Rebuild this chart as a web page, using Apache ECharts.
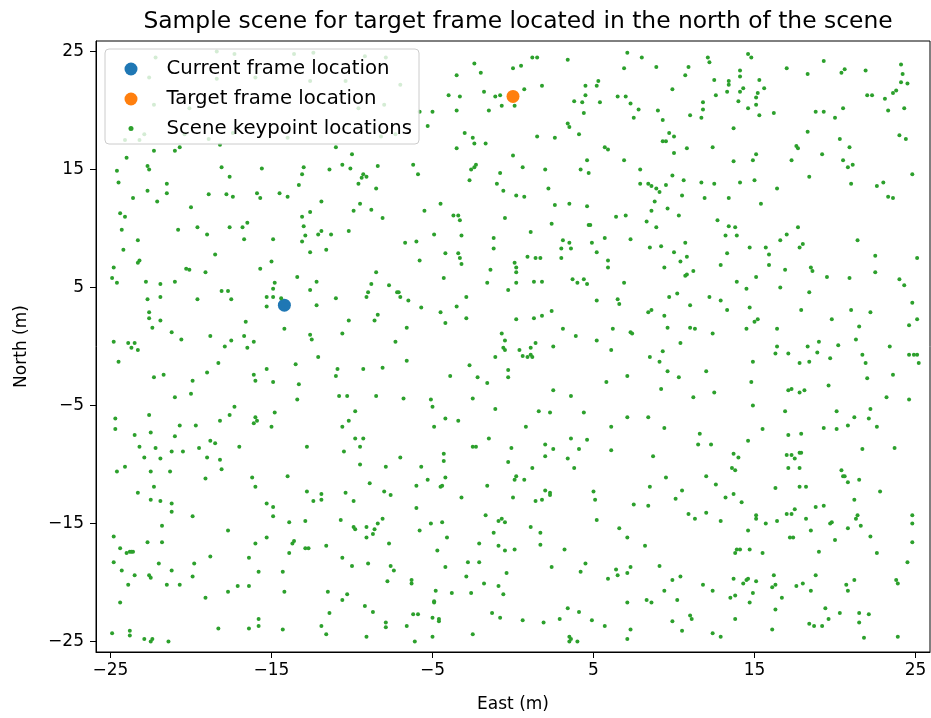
<!DOCTYPE html>
<html><head><meta charset="utf-8">
<script src="https://cdn.jsdelivr.net/npm/echarts@6/dist/echarts.min.js"></script>
<style>html,body{margin:0;padding:0;background:#fff}#c{width:931px;height:718px}</style>
</head><body><div id="c"></div>
<script>
const titleText = 'Sample scene for target frame located in the north of the scene';
const xLabel = 'East (m)';
const yLabel = 'North (m)';
const tickValues = [-25, -15, -5, 5, 15, 25];
const currentFrame = [[-14.2, 3.5]];
const targetFrame = [[0.0, 21.2]];
const keypointsNW = [[-20.7,16.9],[-21.0,16.6],[-22.3,16.6],[-24.0,16.0],[-22.7,15.3],[-22.6,15.0],[-18.1,15.2],[-15.6,15.1],[-17.6,14.4],[-13.0,15.2],[-13.1,14.6],[-24.6,14.9],[-24.5,13.9],[-21.5,13.8],[-13.3,13.7],[-22.7,13.2],[-21.5,13.0],[-18.9,12.9],[-17.8,12.9],[-17.4,12.7],[-15.9,13.0],[-15.7,12.6],[-14.5,13.0],[-14.0,12.7],[-23.6,12.6],[-22.1,12.3],[-20.0,11.8],[-24.4,11.3],[-24.1,11.0],[-16.5,10.5],[-13.1,11.0],[-16.8,10.1],[-13.0,10.2],[-24.3,9.9],[-20.8,9.9],[-19.6,10.1],[-17.6,10.1],[-19.0,9.5],[-23.3,9.0],[-16.7,9.1],[-14.9,9.1],[-13.1,8.9],
[-22.2,24.5],[-18.4,25.0],[-17.3,24.8],[-13.6,24.8],[-22.6,22.8],[-18.4,22.7],[-16.0,22.8],[-22.3,20.5],[-20.1,20.2],[-22.9,18.0],[-24.1,17.5],[-23.2,17.5],[-20.4,18.0],[-18.9,17.6],[-18.2,17.1],[-17.4,18.1],[-14.0,17.7],
[-2.4,24.0],[-2.0,23.2],[-3.5,23.0],[-4.0,21.3],[-3.3,21.2],[-1.8,21.6],[-1.1,21.2],[-0.8,21.3],[-0.7,20.4],[-5.8,19.9],[-5.0,19.9],[-3.5,20.0],[-1.5,20.0],[-5.3,18.7],[-3.0,18.1],[-2.5,17.7],[-2.4,17.2],[-1.7,17.2],[-3.5,16.8],[-11.0,16.9],[-10.0,16.3],[-11.4,15.0],[-10.6,15.4],[-10.1,15.1],[-8.4,15.3],[-6.2,15.4],[-5.9,14.6],[-2.3,15.4],[-2.4,15.2],[-2.6,15.0],[-2.7,14.1],[-0.8,14.7],[-1.0,13.8],[-0.6,13.2],[-9.4,14.3],[-9.3,14.6],[-9.1,14.4],[-9.6,13.8],[-8.5,13.4],[-11.9,12.3],[-12.6,11.4],[-4.5,12.1],[-9.5,12.1],[-9.9,11.5],[-8.8,11.6],[-8.1,10.9],[-5.5,11.5],[-3.7,11.1],[-3.4,11.1],[-3.3,10.7],[-0.5,10.9],[-11.9,9.8],[-12.1,9.5],[-11.3,9.5],[-10.2,9.8],[-12.9,9.4],[-4.9,9.5],[-3.2,9.4],[-1.2,9.2],
[-12.4,24.9],[-9.2,24.6],[-7.9,24.5],[-12.6,22.5],[-10.4,22.5],[-7.0,22.2],[-8.0,20.5],[-9.6,20.2],[-8.2,17.8],[-7.3,18.0]];
const keypointsNE = [[7.1,24.9],[8.0,24.5],[12.1,24.5],[12.2,24.1],[1.2,24.5],[1.5,24.5],[3.4,24.3],[0.0,23.6],[0.5,23.8],[6.9,23.6],[8.9,23.7],[10.9,23.7],[10.7,23.0],[12.5,22.6],[5.3,22.5],[5.2,22.1],[4.5,22.1],[1.8,22.1],[0.7,21.8],[9.9,21.8],[4.5,21.3],[12.6,21.3],[3.8,20.8],[4.3,20.7],[5.4,20.7],[6.5,21.2],[7.0,21.2],[7.3,20.6],[7.8,20.1],[9.0,20.0],[11.8,20.7],[11.8,20.1],[11.0,19.6],[11.7,19.4],[0.1,20.4],[4.4,19.8],[7.5,19.4],[9.3,19.2],[3.4,18.9],[3.5,18.6],[4.1,18.0],[1.5,17.8],[2.6,17.7],[9.7,18.1],[10.0,17.8],[9.3,17.4],[9.5,17.4],[10.8,16.8],[12.4,16.9],[5.7,16.9],[5.9,16.7],[10.0,16.4],[0.0,16.2],[4.6,15.8],[6.9,15.8],[0.6,15.2],[2.0,15.0],[4.2,15.0],[4.7,14.7],[7.9,15.0],[9.9,14.5],[10.6,14.1],[11.7,13.9],[12.5,13.8],[7.9,13.8],[8.4,13.8],[8.6,13.6],[8.9,13.4],[9.5,13.7],[9.1,13.1],[2.2,13.4],[0.2,12.8],[0.7,12.7],[10.5,12.8],[11.9,12.6],[8.8,12.3],[2.6,12.0],[3.5,12.1],[4.6,11.9],[9.6,11.7],[8.6,11.5],[10.3,11.1],[7.0,11.1],[6.4,11.0],[2.4,10.4],[4.7,10.3],[4.8,10.3],[8.3,10.6],[8.9,10.1],[12.7,10.7],[1.1,9.7],[3.1,9.0],[5.7,9.2],[7.3,9.1],
[14.6,24.8],[14.8,24.5],[17.0,23.6],[19.3,24.2],[18.3,23.1],[20.4,23.2],[20.6,23.5],[21.9,23.4],[24.1,23.9],[24.2,23.1],[14.1,23.4],[14.1,22.9],[13.4,22.5],[13.4,22.2],[15.3,22.6],[13.3,21.6],[14.1,21.6],[14.3,21.9],[15.6,21.9],[15.2,21.5],[15.1,21.1],[14.0,20.8],[15.1,20.5],[14.6,20.2],[15.3,19.6],[16.2,19.8],[18.8,19.9],[19.3,19.9],[20.5,20.2],[20.0,19.4],[22.0,21.3],[22.3,21.3],[23.1,21.0],[23.6,21.5],[23.8,21.7],[24.1,22.4],[24.5,22.3],[23.3,20.0],[24.3,20.2],[13.7,18.5],[18.3,18.2],[20.3,17.6],[20.9,16.9],[17.6,17.0],[17.7,16.8],[19.2,16.3],[17.3,15.8],[20.5,15.8],[20.8,15.2],[21.1,15.4],[24.0,17.9],[24.4,17.6],[13.7,15.7],[14.9,15.8],[15.1,16.3],[18.4,14.4],[24.8,14.6],[21.0,13.8],[22.6,13.6],[23.0,13.9],[23.3,12.7],[23.6,12.6],[14.1,13.9],[15.0,14.1],[16.4,13.4],[13.4,12.6],[15.4,12.1],[13.4,10.2],[13.8,10.1],[13.2,9.4],[13.9,9.4],[17.0,9.5],[17.7,10.1],[16.6,9.0],[21.4,9.0]];
const keypointsW = [[-24.2,8.2],[-23.2,7.3],[-23.3,7.1],[-18.5,7.8],[-24.8,6.7],[-20.3,6.6],[-20.1,6.5],[-19.1,6.3],[-15.7,6.6],[-15.0,7.2],[-24.9,5.8],[-24.6,5.4],[-22.8,5.5],[-21.9,5.3],[-21.0,5.5],[-13.4,5.9],[-14.8,5.4],[-14.9,4.9],[-18.1,4.7],[-17.7,4.7],[-22.7,4.0],[-21.9,4.2],[-19.6,4.0],[-17.5,4.0],[-15.3,4.2],[-14.9,4.2],[-14.4,4.1],[-15.3,3.4],[-22.6,2.9],[-22.6,2.4],[-21.9,2.2],[-22.4,1.6],[-16.6,2.1],[-14.2,1.5],[-21.2,1.2],[-20.6,0.6],[-18.8,0.9],[-17.5,0.5],[-16.7,0.9],[-16.1,0.4],[-16.5,-0.1],[-17.9,0.0],[-24.8,0.4],[-23.9,0.3],[-23.5,0.3],[-23.7,-0.1],[-23.3,-0.3],[-24.5,-1.3],[-18.3,-1.4],[-15.3,-1.9],[-13.5,-1.5],[-22.3,-2.6],[-21.7,-2.4],[-19.9,-2.9],[-19.0,-2.2],[-16.1,-2.4],[-16.0,-2.9],[-14.9,-3.0],[-13.3,-3.2],[-21.0,-4.3],[-20.0,-4.0],[-13.4,-4.5],[-17.3,-5.1],[-17.6,-5.8],[-16.0,-6.0],[-15.9,-6.3],[-16.1,-6.5],[-14.8,-5.6],[-15.0,-6.8],[-24.7,-6.1],[-22.6,-5.8],[-24.7,-7.0],[-20.7,-6.7],[-19.7,-6.7],[-18.2,-6.3],[-23.5,-7.5],[-22.5,-7.3],[-21.0,-7.6],[-18.8,-8.0],
[-6.7,8.8],[-6.0,8.9],[-12.6,8.0],[-11.6,8.2],[-5.8,7.3],[-4.2,7.9],[-3.4,7.9],[-3.3,7.5],[-3.2,7.0],[-1.2,8.3],[-1.4,6.5],[-1.6,5.4],[-0.3,4.8],[-8.5,6.3],[-12.2,5.5],[-12.6,4.8],[-8.8,5.3],[-9.0,4.6],[-9.1,4.2],[-7.7,5.2],[-7.2,4.6],[-7.1,4.6],[-7.0,4.2],[-6.5,3.9],[-11.0,4.1],[-12.2,3.5],[-4.3,5.8],[-2.9,4.2],[-3.5,3.4],[-4.5,2.9],[-5.7,3.3],[-4.2,2.0],[-2.9,2.4],[-8.4,2.7],[-8.6,2.2],[-10.2,2.2],[-10.6,1.1],[-6.6,1.6],[-12.6,1.0],[-12.5,0.6],[-7.3,0.4],[-0.7,1.1],[-0.5,0.5],[-0.6,-0.1],[-0.5,-0.3],[-1.1,-0.9],[-12.1,-0.9],[-6.6,-1.2],[-10.9,-1.9],[-11.0,-2.5],[-9.3,-1.9],[-8.1,-1.8],[-2.7,-1.6],[-3.9,-2.5],[-2.2,-2.6],[-1.6,-3.1],[-0.3,-2.0],[-0.3,-2.6],[-10.8,-4.2],[-10.3,-4.2],[-8.5,-4.2],[-6.8,-4.4],[-5.1,-4.5],[-5.0,-5.1],[-2.5,-4.4],[-9.8,-5.5],[-10.2,-6.3],[-10.6,-6.8],[-1.1,-5.3],[-4.2,-6.1],[-3.4,-6.3],[-4.9,-6.8],[-9.8,-7.8],[-9.3,-7.8],[-1.5,-7.8]];
const keypointsE = [[3.5,8.8],[4.9,8.8],[3.0,8.3],[3.6,8.3],[5.2,8.0],[8.5,8.4],[9.2,8.5],[10.7,8.8],[10.0,8.0],[10.8,7.6],[10.4,7.2],[12.9,6.9],[0.1,7.1],[0.2,6.7],[0.2,6.3],[0.9,7.6],[1.4,7.5],[1.7,7.5],[3.0,7.5],[5.9,7.3],[5.9,6.7],[9.4,6.7],[11.2,6.4],[10.8,6.1],[10.7,6.0],[0.2,5.4],[1.3,5.5],[1.8,5.5],[3.7,5.7],[4.0,5.4],[4.4,5.7],[4.6,5.3],[6.9,5.4],[5.2,3.9],[6.5,4.0],[6.6,3.6],[9.7,4.2],[10.2,4.5],[11.0,3.5],[12.2,4.2],[12.9,3.9],[8.4,2.9],[8.6,3.1],[2.4,3.0],[0.2,2.3],[1.3,2.4],[1.8,2.6],[9.4,2.6],[3.1,1.5],[3.9,0.9],[6.2,1.5],[7.3,1.2],[7.4,1.1],[9.6,1.6],[11.0,1.6],[11.3,1.5],[12.4,1.1],[5.2,0.5],[10.4,0.3],[0.4,-0.3],[1.1,-0.1],[1.4,0.3],[2.5,0.0],[6.1,-0.3],[0.6,-0.8],[0.9,-0.9],[1.1,-0.7],[1.2,-0.9],[8.5,-0.9],[9.1,-1.3],[9.3,-0.4],[9.6,-2.1],[10.3,-2.6],[12.0,-2.1],[7.1,-2.5],[5.8,-3.0],[2.5,-3.7],[3.6,-4.2],[9.2,-3.6],[11.2,-4.3],[12.5,-3.9],[1.6,-5.5],[2.3,-5.6],[4.4,-5.6],[7.1,-6.0],[8.4,-6.0],[0.8,-6.8],[6.1,-6.8],[9.4,-6.9],[11.6,-7.4],[3.6,-7.8],[4.6,-7.9],
[18.0,8.7],[17.8,8.4],[14.7,8.4],[15.7,8.4],[13.3,7.9],[15.9,7.8],[15.9,6.9],[16.9,6.5],[18.5,6.7],[18.6,6.4],[22.5,7.7],[22.5,6.3],[25.1,7.5],[15.1,5.9],[13.9,5.5],[14.5,4.9],[16.6,5.0],[18.4,4.6],[19.5,5.9],[20.9,5.8],[24.0,5.7],[24.3,5.2],[24.8,3.7],[13.3,3.1],[14.7,3.3],[17.9,3.1],[21.0,3.1],[22.2,2.9],[25.1,2.3],[24.6,1.8],[19.8,2.3],[21.5,1.7],[15.2,2.3],[15.0,2.1],[14.5,1.5],[16.4,1.5],[21.3,0.6],[19.0,0.4],[20.2,0.1],[23.4,0.0],[16.4,0.0],[18.3,0.0],[18.9,-0.5],[16.3,-0.6],[17.1,-0.6],[19.7,-1.0],[21.7,-0.7],[21.9,-1.4],[24.6,-0.7],[24.9,-0.7],[25.1,-0.7],[25.2,-1.4],[14.9,-1.3],[17.8,-1.4],[18.4,-1.3],[23.6,-2.4],[22.0,-2.7],[14.8,-3.0],[19.6,-3.3],[17.1,-3.7],[17.3,-3.6],[17.8,-3.9],[18.1,-3.7],[23.2,-4.3],[24.6,-4.5],[14.9,-5.0],[16.9,-5.5],[20.1,-5.5],[22.2,-5.3],[22.1,-6.1],[21.2,-6.0],[20.8,-6.7],[22.6,-6.8],[15.5,-7.0],[17.1,-7.5],[17.9,-7.4],[19.3,-6.9],[20.1,-7.0],[14.6,-8.0]];
const keypointsSW = [[-23.2,-8.5],[-22.2,-8.6],[-18.5,-8.2],[-17.0,-8.5],[-22.9,-9.4],[-21.9,-9.5],[-21.2,-8.9],[-20.5,-8.9],[-19.5,-8.6],[-19.0,-9.4],[-18.2,-9.6],[-18.1,-10.4],[-24.6,-10.6],[-24.1,-10.2],[-22.5,-10.6],[-21.3,-10.6],[-19.1,-11.2],[-16.2,-11.1],[-16.0,-11.9],[-14.0,-11.0],[-22.3,-11.9],[-23.3,-12.4],[-22.5,-13.0],[-21.9,-13.1],[-21.2,-13.3],[-21.2,-14.0],[-15.3,-13.3],[-14.9,-13.6],[-14.9,-14.4],[-19.9,-14.4],[-13.9,-14.9],[-21.8,-15.2],[-17.7,-15.6],[-24.8,-16.1],[-24.4,-17.1],[-24.0,-17.5],[-23.8,-17.4],[-23.7,-17.4],[-23.6,-17.4],[-22.7,-16.6],[-21.8,-16.6],[-15.3,-16.2],[-16.0,-16.7],[-13.7,-16.7],[-13.6,-16.5],[-13.9,-17.5],[-18.8,-17.8],[-16.4,-17.9],[-24.8,-18.3],[-22.0,-18.4],[-19.8,-18.4],[-24.3,-19.0],[-21.2,-19.0],[-23.5,-19.4],[-22.6,-19.4],[-22.5,-19.6],[-19.9,-19.5],[-15.8,-19.1],[-14.3,-19.1],[-23.9,-20.2],[-21.5,-20.2],[-20.7,-20.2],[-17.1,-20.3],[-16.4,-20.3],[-17.7,-20.8],[-14.2,-20.8],[-19.1,-21.3],[-24.4,-21.7],[-15.8,-23.1],[-15.8,-23.7],[-16.4,-23.9],[-18.3,-23.9],[-14.3,-24.0],[-24.9,-24.3],[-23.8,-24.1],[-23.8,-24.5],[-22.9,-24.8],[-22.5,-25.0],[-22.4,-24.8],[-21.4,-25.0],
[-12.8,-8.5],[-10.5,-8.9],[-9.5,-8.5],[-9.5,-10.0],[-7.0,-9.4],[-7.9,-10.2],[-5.7,-10.2],[-4.3,-9.1],[-4.3,-9.7],[-2.5,-8.5],[-2.3,-8.5],[-0.3,-9.8],[-0.1,-8.6],[-8.9,-11.6],[-5.3,-11.3],[-6.0,-11.8],[-4.2,-11.1],[-4.5,-11.9],[-4.4,-11.8],[-1.6,-11.8],[-12.8,-12.3],[-11.9,-12.5],[-11.9,-13.0],[-12.4,-13.1],[-10.4,-12.4],[-9.9,-13.1],[-8.0,-12.3],[-7.6,-12.6],[-3.2,-12.8],[-6.0,-13.7],[-12.9,-14.8],[-10.7,-14.7],[-8.1,-14.6],[-8.4,-15.0],[-9.1,-15.3],[-9.9,-15.3],[-9.8,-15.5],[-8.6,-15.5],[-8.7,-15.9],[-9.1,-16.2],[-5.8,-15.6],[-5.1,-15.0],[-4.4,-14.9],[-4.1,-16.2],[-1.7,-14.3],[-0.9,-14.8],[-0.7,-14.6],[-0.5,-14.9],[-1.2,-15.8],[-7.7,-16.7],[-12.9,-17.1],[-12.7,-17.1],[-11.6,-16.9],[-4.7,-17.3],[-2.1,-16.7],[-0.9,-16.9],[-0.5,-17.3],[-10.6,-17.9],[-10.0,-18.6],[-9.0,-18.4],[-7.6,-18.6],[-7.4,-19.0],[-4.2,-18.7],[-2.8,-18.3],[-2.1,-18.3],[-2.9,-19.5],[-0.4,-19.2],[-7.8,-19.9],[-6.3,-20.1],[-6.3,-19.8],[-4.8,-20.7],[-3.8,-20.9],[-2.6,-20.9],[-1.8,-20.1],[-0.9,-20.3],[-0.6,-21.0],[-11.5,-20.8],[-10.3,-21.0],[-10.6,-21.5],[-4.9,-21.6],[-4.9,-21.7],[-9.2,-22.0],[-8.7,-22.5],[-11.4,-22.6],[-6.2,-22.7],[-5.9,-22.7],[-5.0,-23.0],[-4.6,-23.1],[-4.6,-23.3],[-1.3,-22.6],[-0.8,-23.0],[-11.9,-23.7],[-11.6,-24.4],[-7.9,-23.4],[-7.9,-23.8],[-6.6,-23.7],[-9.1,-24.6],[-6.1,-25.0],[-5.0,-24.6],[-2.5,-24.4]];
const keypointsSE = [[2.0,-8.3],[2.5,-8.7],[4.1,-8.7],[6.1,-8.8],[11.5,-8.3],[12.3,-8.3],[2.0,-9.3],[3.4,-9.5],[3.8,-10.3],[1.2,-10.3],[0.2,-11.0],[0.1,-11.3],[0.7,-11.3],[8.7,-9.3],[9.5,-11.1],[12.0,-11.0],[12.6,-11.7],[8.5,-11.9],[10.5,-12.2],[10.1,-12.9],[8.4,-13.5],[7.5,-13.4],[5.0,-12.3],[5.1,-13.0],[2.0,-12.2],[2.3,-12.4],[2.3,-12.6],[1.8,-13.0],[1.4,-13.1],[0.0,-12.8],[10.9,-14.2],[11.3,-14.6],[12.0,-14.1],[12.9,-14.8],[5.2,-14.7],[1.1,-15.3],[1.7,-15.8],[1.7,-16.8],[3.2,-17.2],[0.1,-17.2],[6.6,-15.4],[7.1,-16.2],[8.2,-16.9],[2.4,-18.7],[4.5,-18.4],[4.2,-19.1],[6.4,-18.9],[6.5,-19.4],[5.9,-19.7],[7.3,-18.7],[7.1,-19.2],[9.1,-18.6],[9.9,-19.8],[10.4,-19.5],[11.8,-20.2],[12.4,-20.7],[9.4,-20.7],[7.1,-21.7],[8.3,-21.5],[8.6,-21.7],[10.2,-21.5],[3.4,-22.2],[4.1,-22.5],[0.6,-23.2],[1.9,-23.4],[2.9,-23.1],[4.9,-23.2],[5.7,-23.7],[9.9,-23.3],[11.0,-22.8],[11.1,-23.1],[10.5,-24.1],[12.4,-24.3],[12.9,-24.6],[7.3,-24.0],[7.1,-24.8],[3.5,-24.6],[3.5,-25.0],[3.6,-24.8],[4.0,-25.0],
[13.7,-9.1],[14.0,-9.4],[17.0,-9.2],[17.3,-9.2],[17.5,-9.5],[17.8,-9.0],[17.9,-9.0],[17.1,-10.3],[17.8,-10.3],[13.6,-10.3],[13.8,-10.5],[21.7,-8.7],[23.7,-8.6],[20.4,-10.5],[20.5,-11.0],[20.6,-11.0],[20.8,-11.5],[21.5,-11.3],[22.8,-12.3],[16.3,-12.0],[17.8,-11.9],[18.2,-11.9],[13.2,-12.8],[13.7,-12.5],[14.2,-13.2],[21.2,-13.0],[18.8,-13.6],[19.3,-13.5],[17.0,-14.2],[17.3,-14.2],[17.5,-13.8],[15.1,-14.3],[15.1,-14.6],[15.7,-15.0],[16.4,-14.8],[18.2,-14.6],[19.7,-15.0],[19.8,-14.9],[20.8,-15.4],[21.3,-14.6],[21.4,-14.3],[21.6,-15.2],[24.8,-14.3],[24.8,-15.0],[14.6,-15.6],[18.5,-15.6],[17.2,-16.2],[17.4,-16.2],[20.0,-16.4],[22.2,-16.1],[24.8,-16.6],[13.9,-17.2],[14.1,-17.2],[13.8,-17.5],[14.7,-17.2],[15.5,-17.5],[19.0,-17.4],[22.6,-17.5],[24.5,-18.3],[13.7,-19.7],[14.3,-20.1],[14.5,-19.8],[14.6,-19.7],[15.1,-19.9],[16.2,-19.4],[16.1,-20.4],[16.3,-20.2],[17.6,-20.3],[18.0,-20.1],[18.5,-20.7],[18.8,-19.4],[20.7,-20.2],[20.8,-20.7],[21.2,-19.8],[23.8,-19.8],[23.9,-20.1],[13.5,-21.3],[13.8,-21.1],[14.9,-20.9],[16.7,-21.3],[14.7,-21.7],[16.3,-22.3],[19.4,-22.2],[19.6,-23.1],[20.3,-22.6],[21.5,-22.6],[22.1,-22.7],[21.5,-23.4],[13.8,-23.1],[18.4,-23.5],[18.7,-23.7],[19.2,-23.7],[16.1,-24.0],[21.8,-24.7],[23.9,-24.6]];

const sceneKeypoints = [].concat(keypointsNW, keypointsNE, keypointsW, keypointsE, keypointsSW, keypointsSE);

const FONT = 'DejaVu Sans';
const fmt = v => String(v).replace('-', '\u2212');
const chart = echarts.init(document.getElementById('c'), null, {renderer: 'canvas'});
const legendBase = {
  orient: 'vertical', itemWidth: 61, padding: 0, icon: 'circle',
  selectedMode: false, backgroundColor: 'transparent',
  textStyle: {fontSize: 19.7, color: '#000', fontFamily: FONT, lineHeight: 22}
};
chart.setOption({
  animation: false,
  title: {text: titleText, left: 513, top: 5, textAlign: 'center',
    textStyle: {fontSize: 23.4, fontWeight: 'normal', color: '#000', fontFamily: FONT}},
  grid: {left: 96, top: 41, width: 834, height: 611, show: true, borderColor: '#000', borderWidth: 1, backgroundColor: 'transparent'},
  xAxis: {type: 'value', min: -25.9, max: 25.9, name: xLabel, nameLocation: 'middle', nameGap: 44,
    nameTextStyle: {fontSize: 17, color: '#000', fontFamily: FONT},
    axisLine: {show: true, onZero: false, lineStyle: {color: '#000', width: 1}},
    axisTick: {show: true, length: 6, lineStyle: {color: '#000'}, customValues: tickValues},
    axisLabel: {fontSize: 17, color: '#000', fontFamily: FONT, margin: 10, formatter: fmt, customValues: tickValues},
    splitLine: {show: false}},
  yAxis: {type: 'value', min: -25.9, max: 25.9, name: yLabel, nameLocation: 'middle', nameGap: 66,
    nameTextStyle: {fontSize: 17, color: '#000', fontFamily: FONT},
    axisLine: {show: true, onZero: false, lineStyle: {color: '#000', width: 1}},
    axisTick: {show: true, length: 6, lineStyle: {color: '#000'}, customValues: tickValues},
    axisLabel: {fontSize: 17, color: '#000', fontFamily: FONT, margin: 12, formatter: fmt, customValues: tickValues},
    splitLine: {show: false}},
  legend: [
    Object.assign({}, legendBase, {left: 124.5, top: 58, itemHeight: 13, data: ['Current frame location']}),
    Object.assign({}, legendBase, {left: 124.5, top: 88, itemHeight: 13, data: ['Target frame location']}),
    Object.assign({}, legendBase, {left: 128.5, top: 117.5, itemHeight: 5,
      data: [{name: 'Scene keypoint locations', itemStyle: {color: '#2ca02c', opacity: 1}}]})
  ],
  graphic: {elements: [{type: 'rect', z: 3, shape: {x: 105, y: 49, width: 314, height: 95, r: 4},
    style: {fill: 'rgba(255,255,255,0.8)', stroke: '#cccccc', lineWidth: 1}}]},
  series: [
    {name: 'Current frame location', type: 'scatter', data: currentFrame, symbolSize: 13, itemStyle: {color: '#1f77b4', opacity: 1}},
    {name: 'Target frame location', type: 'scatter', data: targetFrame, symbolSize: 13, itemStyle: {color: '#ff7f0e', opacity: 1}},
    {name: 'Scene keypoint locations', type: 'scatter', data: sceneKeypoints, symbolSize: 4, itemStyle: {color: '#2ca02c', opacity: 1}}
  ]
});
</script></body></html>
